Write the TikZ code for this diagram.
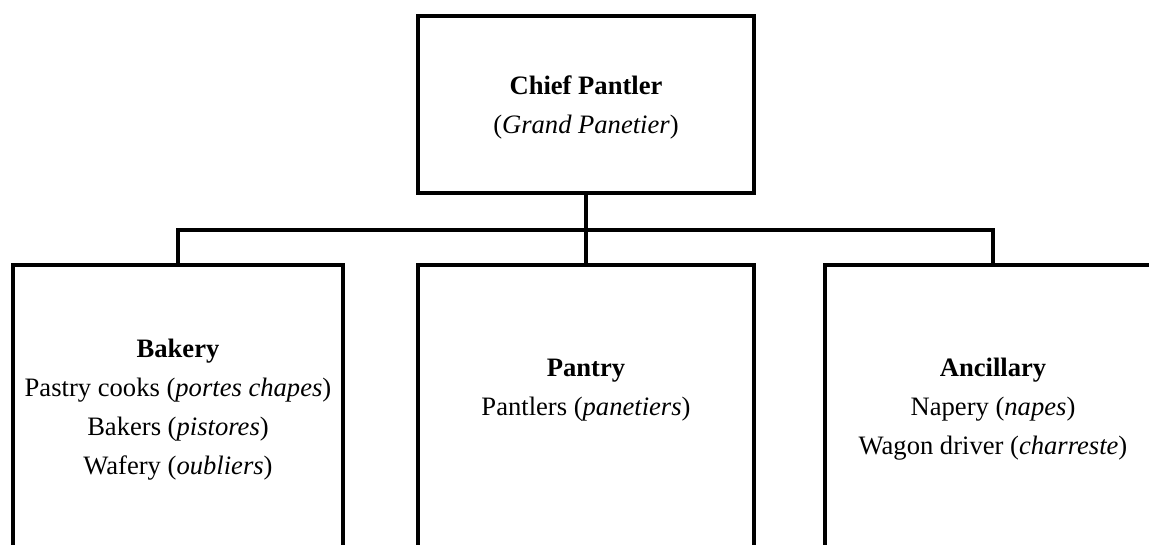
\documentclass[tikz,border=0pt]{standalone}
\usepackage{fontspec}
\setmainfont{Liberation Serif}
\begin{document}
\begin{tikzpicture}[x=1pt,y=-1pt,
  unitbox/.style={draw=black, line width=4.3pt, rectangle, inner sep=0pt,
    outer sep=0pt, anchor=north},
  conn/.style={draw=black, line width=4.3pt},
  label/.style={anchor=base, align=center, inner sep=0pt,
    font=\fontsize{26.6}{39}\selectfont}]
\useasboundingbox (0,0) rectangle (1149,544);
\clip (0,0) rectangle (1149,544);

% boxes
\node[unitbox, minimum width=336pt, minimum height=177pt] (chief) at (586,16) {};
\node[unitbox, minimum width=330pt, minimum height=320pt] (bakery) at (178,265) {};
\node[unitbox, minimum width=336pt, minimum height=320pt] (pantry) at (586,265) {};
\node[unitbox, minimum width=336pt, minimum height=320pt] (ancillary) at (993,265) {};

% texts (the base anchor sits on the last line)
\node[label] (chieftext) at (586,133) {\textbf{Chief Pantler}\\(\textit{Grand Panetier})};
\node[label] (bakerytext) at (178,474) {\textbf{Bakery}\\Pastry cooks (\textit{portes chapes})\\Bakers (\textit{pistores})\\Wafery (\textit{oubliers})};
\node[label] (pantrytext) at (586,415) {\textbf{Pantry}\\Pantlers (\textit{panetiers})};
\node[label] (ancillarytext) at (993,454) {\textbf{Ancillary}\\Napery (\textit{napes})\\Wagon driver (\textit{charreste})};

% connectors
\coordinate (bus) at (586,230);
\draw[conn] (chief.south) -- (pantry.north);
\draw[conn] (bakery.north) -- (bakery.north |- bus) -- (ancillary.north |- bus) -- (ancillary.north);
\end{tikzpicture}
\end{document}
